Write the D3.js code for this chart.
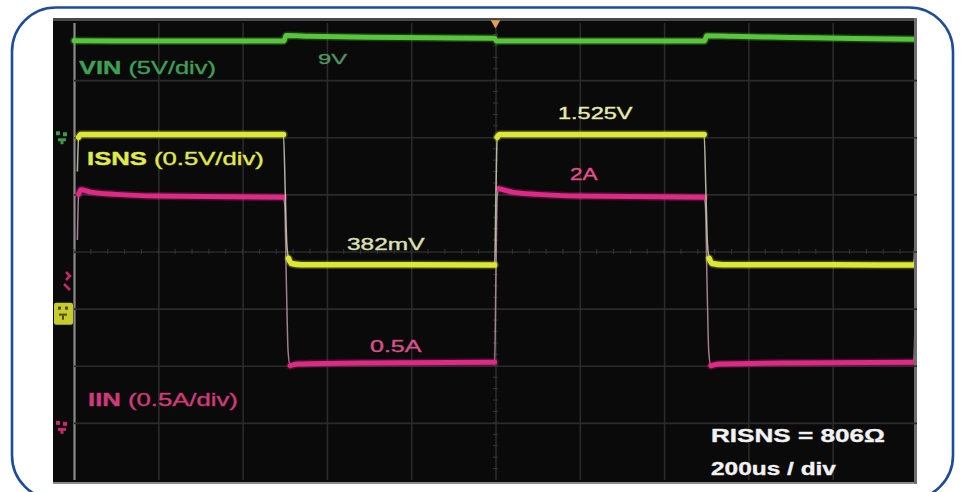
<!DOCTYPE html>
<html><head><meta charset="utf-8">
<script src="https://cdn.jsdelivr.net/npm/d3@7/dist/d3.min.js"></script>
<style>html,body{margin:0;padding:0;background:#fff;}svg{display:block;}</style>
</head><body>
<svg id="chart" width="962" height="492"></svg>
<script>
// ---------------- DATA ----------------
// time in microseconds from the left edge of the graticule (200 us/div, 10 div)
const timeTicks = [0, 200, 400, 600, 800, 1000, 1200, 1400, 1600, 1800, 2000];
const divTicks = [0, 1, 2, 3, 4, 5, 6, 7, 8];

// VIN trace (volts)
const vinTime = [0, 100, 300, 498, 503, 560, 700, 850, 998, 1002, 1200, 1496, 1501, 1560, 1700, 1850, 1998];
const vinVolts = [8.44, 8.43, 8.42, 8.42, 8.90, 8.85, 8.76, 8.70, 8.66, 8.43, 8.42, 8.42, 8.88, 8.83, 8.74, 8.64, 8.58];

// ISNS trace (volts)
const isnsTime = [8, 11, 16, 200, 497, 501, 505, 509, 516, 540, 800, 998, 1001, 1004, 1010, 1200, 1495, 1499, 1503, 1507, 1514, 1540, 1800, 1992, 1996];
const isnsVolts = [1.20, 1.50, 1.525, 1.525, 1.525, 1.05, 0.56, 0.44, 0.395, 0.385, 0.383, 0.382, 1.00, 1.50, 1.525, 1.525, 1.525, 1.05, 0.56, 0.44, 0.395, 0.385, 0.383, 0.382, 0.70];

// IIN trace (amps)
const iinTime = [8, 11, 16, 40, 100, 200, 497, 500, 504, 508, 513, 530, 700, 998, 1001, 1004, 1008, 1040, 1100, 1200, 1495, 1498, 1502, 1506, 1511, 1530, 1700, 1992, 1996];
const iinAmps = [1.60, 2.00, 2.04, 2.02, 2.00, 1.985, 1.975, 1.90, 1.20, 0.62, 0.50, 0.515, 0.525, 0.53, 1.30, 1.98, 2.05, 2.02, 2.00, 1.985, 1.975, 1.90, 1.20, 0.62, 0.50, 0.515, 0.525, 0.53, 1.00];

// channel settings: [units per division, graticule division (from top) of the zero level]
const vinScale = [5, 2];
const isnsScale = [0.5, 5];
const iinScale = [0.5, 7];

// annotation texts
const labelTexts = ["VIN (5V/div)", "9V", "1.525V", "ISNS (0.5V/div)", "2A", "382mV", "0.5A", "IIN (0.5A/div)", "RISNS = 806\u03A9", "200us / div"];

// ---------------- LAYOUT ----------------
const svg = d3.select("#chart");
const G = {x0: 74, x1: 917, y0: 23, y1: 480};

const x = d3.scaleLinear().domain([0, 2000]).range([G.x0, G.x1]);
const yDiv = d3.scaleLinear().domain([0, 8]).range([G.y0, G.y1]);
function chanScale(s) {
  return d3.scaleLinear().domain([0, s[0] * s[1]]).range([yDiv(s[1]), yDiv(0)]);
}
const yVin = chanScale(vinScale), yIsns = chanScale(isnsScale), yIin = chanScale(iinScale);

// outer rounded frame
svg.append("rect").attr("x", 12).attr("y", 7.5).attr("width", 941).attr("height", 492)
  .attr("rx", 44).attr("ry", 44).attr("fill", "#fff").attr("stroke", "#1e4c9c").attr("stroke-width", 2.6);

// scope screen
svg.append("rect").attr("x", 53).attr("y", 18).attr("width", 864).attr("height", 466).attr("fill", "#0a0a0a");
svg.append("line").attr("x1", 53).attr("x2", 917).attr("y1", 19.5).attr("y2", 19.5).attr("stroke", "#4a4a4a").attr("stroke-width", 3);
svg.append("line").attr("x1", 53).attr("x2", 917).attr("y1", 483).attr("y2", 483).attr("stroke", "#8a8a8a").attr("stroke-width", 2);
svg.append("line").attr("x1", 915.5).attr("x2", 915.5).attr("y1", 18).attr("y2", 484).attr("stroke", "#6e6e6e").attr("stroke-width", 3);

// graticule via axes
const gx = svg.append("g").attr("transform", `translate(0,${G.y1})`)
  .call(d3.axisBottom(x).tickValues(timeTicks).tickSize(-(G.y1 - G.y0)).tickFormat(""));
const gy = svg.append("g").attr("transform", `translate(${G.x0},0)`)
  .call(d3.axisLeft(yDiv).tickValues(divTicks).tickSize(-(G.x1 - G.x0)).tickFormat(""));
[gx, gy].forEach(g => {
  g.select(".domain").remove();
  g.selectAll(".tick line").attr("stroke", "#2a2a2a").attr("stroke-width", 1.6);
});
gx.selectAll(".tick").filter(d => d === 0).select("line").attr("stroke", "#8a8a8a").attr("stroke-width", 2.2);
gx.selectAll(".tick").filter(d => d === 2000).remove();
gy.selectAll(".tick").filter(d => d === 0 || d === 8).remove();

// center minor ticks
const minor = svg.append("g").attr("stroke", "#363636").attr("stroke-width", 1);
d3.range(0, 2000, 40).forEach(t => minor.append("line").attr("x1", x(t)).attr("x2", x(t)).attr("y1", yDiv(4) - 2.5).attr("y2", yDiv(4) + 2.5));
d3.range(0, 8, 0.2).forEach(d => minor.append("line").attr("x1", x(1000) - 2.5).attr("x2", x(1000) + 2.5).attr("y1", yDiv(d)).attr("y2", yDiv(d)));

// clip to screen
svg.append("clipPath").attr("id", "scr").append("rect").attr("x", 53).attr("y", 18).attr("width", 861).attr("height", 464);

// trigger marker
svg.append("path").attr("d", d3.symbol(d3.symbolTriangle, 40)())
  .attr("transform", `translate(${x(1000)},23) rotate(180)`).attr("fill", "#e0a050");

// channel reference markers (left)
function gndMarker(yv, col) {
  const g = svg.append("g").attr("transform", `translate(62,${yv})`).attr("fill", col);
  g.append("rect").attr("x", -6).attr("y", -6).attr("width", 4).attr("height", 4);
  g.append("rect").attr("x", 1).attr("y", -5).attr("width", 4).attr("height", 4);
  g.append("rect").attr("x", -4).attr("y", 1).attr("width", 8).attr("height", 3);
  g.append("rect").attr("x", -1.5).attr("y", 3).attr("width", 3).attr("height", 4);
}
gndMarker(yVin(0), "#3c9a4c");
gndMarker(yIin(0) + 4, "#c42a70");
svg.append("rect").attr("x", 54).attr("y", yIsns(0) - 6).attr("width", 19).attr("height", 22).attr("fill", "#c6cc2a").attr("rx", 2);
svg.append("g").attr("transform", `translate(63,${yIsns(0) + 5})`).call(g => {
  g.append("rect").attr("x", -5).attr("y", -7).attr("width", 3).attr("height", 3).attr("fill", "#4a4a10");
  g.append("rect").attr("x", 2).attr("y", -7).attr("width", 3).attr("height", 3).attr("fill", "#4a4a10");
  g.append("rect").attr("x", -4).attr("y", 0).attr("width", 8).attr("height", 2).attr("fill", "#4a4a10");
  g.append("rect").attr("x", -1).attr("y", 2).attr("width", 2).attr("height", 4).attr("fill", "#4a4a10");
});
svg.append("path").attr("d", "M66,272 L70,276 L66,280 M64,284 L70,290").attr("stroke", "#c42a70").attr("stroke-width", 2.5).attr("fill", "none");

// traces: thin faint edges, thick flat parts
const traces = svg.append("g").attr("clip-path", "url(#scr)");
function drawTrace(ts, vs, ys, col, edgeCol, w) {
  const pts = ts.map((t, i) => [x(t), ys(vs[i])]);
  const steep = (a, b) => Math.abs(b[1] - a[1]) / Math.max(0.01, Math.abs(b[0] - a[0])) > 4;
  const flatOK = pts.map((p, i) => {
    const pv = i > 0 ? !steep(pts[i - 1], p) : false;
    const nx = i < pts.length - 1 ? !steep(p, pts[i + 1]) : false;
    return pv || nx;
  });
  const line = d3.line().x(d => d[0]).y(d => d[1]).curve(d3.curveMonotoneX);
  traces.append("path").datum(pts).attr("d", line).attr("fill", "none")
    .attr("stroke", edgeCol).attr("stroke-opacity", 0.8).attr("stroke-width", 1.5);
  const thick = d3.line().defined((d, i) => flatOK[i]).x(d => d[0]).y(d => d[1]).curve(d3.curveMonotoneX);
  traces.append("path").datum(pts).attr("d", thick).attr("fill", "none")
    .attr("stroke", col).attr("stroke-opacity", 0.25).attr("stroke-width", w + 3).attr("stroke-linejoin", "round").attr("stroke-linecap", "round");
  traces.append("path").datum(pts).attr("d", thick).attr("fill", "none")
    .attr("stroke", col).attr("stroke-width", w).attr("stroke-linejoin", "round").attr("stroke-linecap", "round");
}
drawTrace(vinTime, vinVolts, yVin, "#58c63c", "#9ad88a", 5);
drawTrace(iinTime, iinAmps, yIin, "#de2a86", "#c89ab0", 5);
drawTrace(isnsTime, isnsVolts, yIsns, "#dde834", "#d8dcb8", 5.5);

// labels: [text index, left x, baseline y, target width, font size, colour, bold prefix length, weight]
const labelLayout = [
  [0, 79, 74, 137, 18, "#3f9f55", 3, "normal"],
  [1, 318, 63.5, 29, 15, "#4f9463", 0, "normal"],
  [2, 558, 118.5, 75, 16, "#e8ecaa", 0, "normal"],
  [3, 87, 164.5, 177, 18, "#e2ea4a", 4, "normal"],
  [4, 570, 180, 28, 16, "#e2508c", 0, "normal"],
  [5, 347, 250, 78, 16, "#dde0b2", 0, "normal"],
  [6, 370, 352, 52, 16, "#da508a", 0, "normal"],
  [7, 88, 405.5, 150, 18, "#d03a7a", 3, "normal"],
  [8, 711, 442, 174, 18, "#f2f2f2", 0, "bold"],
  [9, 711, 474.5, 125, 18, "#f2f2f2", 0, "bold"]
];
labelLayout.forEach(([i, lx, ly, w, fs, col, nb, wt]) => {
  const s = labelTexts[i];
  const t = svg.append("text").attr("font-family", "'Liberation Sans', Arial, sans-serif")
    .attr("font-size", fs).attr("fill", col).attr("font-weight", wt)
    .attr("stroke", col).attr("stroke-width", 0.45).attr("stroke-opacity", 0.8);
  if (nb > 0) {
    t.append("tspan").attr("font-weight", "bold").text(s.slice(0, nb));
    t.append("tspan").attr("font-weight", "normal").text(s.slice(nb));
  } else {
    t.text(s);
  }
  const bw = t.node().getBBox().width;
  t.attr("transform", `translate(${lx},${ly}) scale(${w / bw},1)`);
});
</script>
</body></html>
